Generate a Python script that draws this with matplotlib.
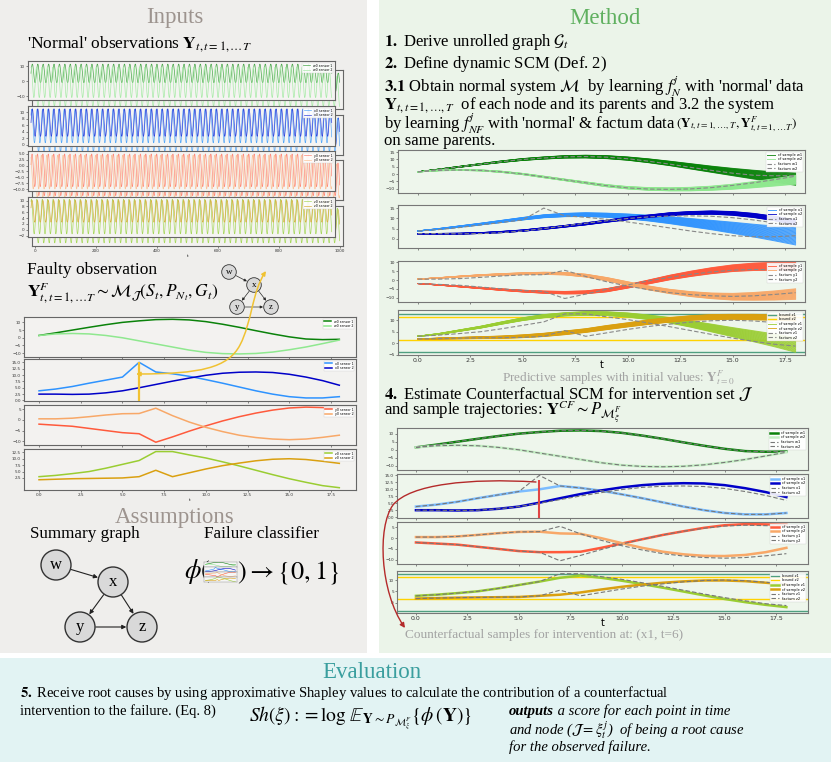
import numpy as np
import matplotlib
matplotlib.use("Agg")
import matplotlib.pyplot as plt
from matplotlib.patches import Rectangle, Circle, FancyArrowPatch
from matplotlib.path import Path

# ------------------------------------------------------------------ data
t_steps = list(range(19))

# faulty (factum) observation, per sensor
factum_w1 = [1.5, 3.2, 5.0, 6.8, 8.5, 10.0, 11.0, 11.8, 12.0, 11.6, 10.5, 8.8, 6.8, 4.6, 2.5, 0.6, -0.8, -1.2, -1.0]
factum_w2 = [1.5, 2.5, 2.8, 2.5, 1.5, 0.0, -2.0, -4.0, -6.0, -8.0, -9.5, -10.3, -10.5, -10.2, -9.3, -7.8, -6.0, -3.8, -1.5]
factum_x1 = [3.8, 4.5, 5.5, 6.8, 8.0, 9.2, 15.0, 11.2, 10.5, 9.5, 8.2, 6.8, 5.3, 3.8, 2.5, 1.5, 1.0, 1.0, 1.5]
factum_x2 = [2.5, 2.5, 2.4, 2.5, 3.0, 3.8, 5.0, 6.3, 7.6, 8.8, 9.9, 10.7, 11.1, 11.2, 11.0, 10.3, 9.2, 7.8, 6.0]
factum_y1 = [-2.0, -2.5, -3.0, -4.0, -5.0, -6.0, -6.5, -10.5, -8.0, -5.3, -2.8, -0.5, 1.5, 3.2, 4.6, 5.6, 6.0, 5.8, 5.5]
factum_y2 = [0.5, 0.5, 0.8, 1.5, 2.3, 2.9, 3.0, 5.5, 2.0, -1.0, -3.5, -5.5, -7.2, -8.3, -9.0, -9.3, -9.0, -8.2, -7.2]
factum_z1 = [3.0, 3.5, 4.2, 5.0, 6.3, 7.8, 9.3, 12.8, 12.8, 11.5, 10.3, 8.8, 7.2, 5.5, 3.8, 2.2, 0.8, -0.5, -1.3]
factum_z2 = [1.8, 2.0, 2.2, 2.3, 2.4, 2.5, 3.0, 5.5, 3.0, 4.5, 6.0, 7.3, 8.3, 9.2, 9.8, 10.0, 9.7, 9.0, 8.2]

# predictive samples (centre of the bundle and its half width)
pred_w1 = [1.5, 3.2, 5.0, 6.8, 8.5, 10.0, 11.0, 11.8, 12.0, 11.6, 10.6, 9.1, 7.3, 5.3, 3.3, 1.4, -0.4, -2.0, -3.5]
pred_w1_spread = [0.0, 0.2, 0.3, 0.4, 0.5, 0.6, 0.7, 0.8, 0.9, 1.0, 1.1, 1.3, 1.5, 1.8, 2.1, 2.5, 3.0, 3.5, 4.2]
pred_w2 = [1.5, 2.5, 2.8, 2.5, 1.5, 0.0, -2.0, -4.0, -6.0, -8.0, -9.4, -10.2, -10.5, -10.3, -9.7, -8.7, -7.3, -5.7, -4.0]
pred_w2_spread = [0.0, 0.2, 0.3, 0.3, 0.4, 0.4, 0.5, 0.5, 0.6, 0.7, 0.8, 0.9, 1.0, 1.2, 1.4, 1.7, 2.1, 2.5, 3.0]
pred_x1 = [3.8, 4.8, 6.0, 7.2, 8.5, 9.8, 11.0, 11.6, 11.8, 11.5, 10.9, 10.1, 9.1, 7.9, 6.7, 5.4, 4.0, 2.6, 1.2]
pred_x1_spread = [0.0, 0.2, 0.3, 0.4, 0.5, 0.6, 0.7, 0.8, 0.9, 1.0, 1.2, 1.4, 1.7, 2.0, 2.3, 2.7, 3.1, 3.6, 4.2]
pred_x2 = [2.5, 2.5, 2.5, 2.8, 3.3, 4.0, 5.0, 6.1, 7.3, 8.6, 9.9, 11.0, 12.0, 12.6, 12.8, 12.4, 11.4, 9.9, 8.0]
pred_x2_spread = [0.0, 0.1, 0.2, 0.2, 0.3, 0.3, 0.4, 0.4, 0.5, 0.5, 0.6, 0.6, 0.7, 0.7, 0.8, 0.9, 1.0, 1.1, 1.3]
pred_y1 = [-2.0, -2.8, -3.7, -4.6, -5.5, -6.3, -6.9, -7.2, -7.0, -5.8, -3.6, -1.1, 1.4, 3.5, 5.3, 6.7, 7.5, 7.8, 7.6]
pred_y1_spread = [0.0, 0.1, 0.2, 0.3, 0.4, 0.5, 0.6, 0.7, 0.8, 0.9, 1.0, 1.1, 1.3, 1.5, 1.7, 1.9, 2.1, 2.3, 2.6]
pred_y2 = [0.5, 1.2, 2.0, 2.7, 3.2, 3.6, 3.8, 3.6, 2.5, 0.5, -2.0, -4.5, -6.5, -8.0, -9.0, -9.5, -9.3, -8.8, -8.0]
pred_y2_spread = [0.0, 0.1, 0.2, 0.3, 0.4, 0.5, 0.6, 0.7, 0.8, 0.9, 1.0, 1.1, 1.2, 1.4, 1.6, 1.9, 2.2, 2.6, 3.0]
pred_z1 = [3.0, 4.0, 5.5, 7.0, 8.8, 10.5, 11.8, 12.6, 13.0, 12.9, 12.3, 11.3, 10.0, 8.4, 6.6, 4.8, 3.0, 1.2, -0.8]
pred_z1_spread = [0.0, 0.2, 0.3, 0.4, 0.5, 0.6, 0.7, 0.7, 0.8, 0.8, 0.9, 1.0, 1.2, 1.4, 1.7, 2.0, 2.4, 2.8, 3.2]
pred_z2 = [1.8, 2.0, 2.2, 2.4, 2.6, 3.0, 3.6, 4.5, 5.5, 6.8, 8.0, 9.2, 10.2, 11.0, 11.4, 11.5, 11.4, 11.2, 11.0]
pred_z2_spread = [0.0, 0.2, 0.3, 0.4, 0.5, 0.6, 0.7, 0.8, 0.8, 0.9, 0.9, 1.0, 1.0, 1.0, 1.1, 1.1, 1.2, 1.2, 1.3]

bound_z1 = [-3.7, 12.7]
bound_z2 = [1.5, 11.5]

# counterfactual samples for intervention (x1, t=6)
intervention_t = 6
cf_w1 = [1.5, 3.2, 5.0, 6.8, 8.5, 10.0, 11.0, 11.8, 12.0, 11.6, 10.5, 8.8, 6.8, 4.6, 2.5, 0.6, -0.8, -1.2, -1.0]
cf_w2 = [1.5, 2.5, 2.8, 2.5, 1.5, 0.0, -2.0, -4.0, -6.0, -8.0, -9.5, -10.3, -10.5, -10.2, -9.3, -7.8, -6.0, -3.8, -1.5]
cf_x1 = [3.8, 4.5, 5.5, 6.8, 8.0, 9.2, 10.0, 11.2, 10.5, 9.5, 8.2, 6.8, 5.3, 3.8, 2.5, 1.5, 1.0, 1.0, 1.5]
cf_x2 = [2.5, 2.5, 2.4, 2.5, 3.0, 3.8, 5.2, 6.8, 8.3, 9.6, 10.7, 11.5, 12.0, 12.2, 12.1, 11.5, 10.4, 9.0, 7.2]
cf_y1 = [-2.0, -2.5, -3.0, -4.0, -5.0, -6.0, -6.5, -6.5, -6.3, -4.5, -2.5, -0.5, 1.5, 3.2, 4.8, 6.0, 6.5, 6.4, 6.2]
cf_y2 = [0.5, 0.5, 0.8, 1.5, 2.3, 2.9, 3.0, 2.2, 2.0, 0.0, -2.3, -4.5, -6.3, -7.5, -8.2, -8.3, -7.8, -6.5, -4.5]
cf_z1 = [3.0, 3.5, 4.2, 5.0, 6.3, 7.8, 9.3, 11.0, 12.0, 11.0, 9.7, 8.2, 6.6, 4.9, 3.2, 1.6, 0.2, -1.0, -2.0]
cf_z2 = [1.8, 2.0, 2.2, 2.3, 2.4, 2.5, 3.0, 3.5, 4.5, 5.8, 7.0, 8.0, 8.8, 9.4, 9.8, 9.8, 9.5, 8.8, 8.0]

# 'normal' observations: one oscillation period of each sensor (repeated)
n_obs = 1000
w1_cycle = [5.3, 7.4, 9.3, 10.7, 11.4, 11.4, 10.7, 9.3, 7.4, 5.3, 3.1, 1.2, -0.2, -0.9, -0.9, -0.2, 1.2, 3.1]
w2_cycle = [9.3, 9.3, 8.1, 5.8, 2.8, -0.8, -4.3, -7.3, -9.6, -10.8, -10.8, -9.6, -7.3, -4.3, -0.8, 2.8, 5.8, 8.1]
x1_cycle = [9.1, 10.3, 10.9, 10.9, 10.3, 9.1, 7.5, 5.8, 4.0, 2.4, 1.2, 0.6, 0.6, 1.2, 2.4, 4.0, 5.8, 7.5]
x2_cycle = [6.8, 8.2, 9.5, 10.4, 11.0, 11.0, 10.4, 9.5, 8.2, 6.8, 5.3, 4.0, 3.1, 2.6, 2.6, 3.1, 4.0, 5.3]
y1_cycle = [0.4, 2.5, 4.1, 4.9, 4.9, 4.1, 2.5, 0.4, -2.0, -4.4, -6.5, -8.1, -8.9, -8.9, -8.1, -6.5, -4.4, -2.0]
y2_cycle = [3.5, 1.9, -0.3, -2.8, -5.2, -7.4, -9.0, -9.9, -9.9, -9.0, -7.4, -5.2, -2.8, -0.3, 1.9, 3.5, 4.4, 4.4]
z1_cycle = [9.7, 10.4, 10.4, 9.7, 8.4, 6.6, 4.5, 2.4, 0.6, -0.7, -1.4, -1.4, -0.7, 0.6, 2.4, 4.5, 6.6, 8.4]
z2_cycle = [7.5, 8.7, 9.5, 10.0, 10.0, 9.5, 8.7, 7.5, 6.25, 5.0, 3.8, 3.0, 2.6, 2.6, 3.0, 3.8, 5.0, 6.25]

nodes = ["w", "x", "y", "z"]
edges = [("w", "x"), ("x", "y"), ("x", "z"), ("y", "z")]

# ------------------------------------------------------------------ styles
W, H = 831, 762
plt.rcParams["font.family"] = ["DejaVu Sans"]
plt.rcParams["mathtext.fontset"] = "stix"
SERIF = "Liberation Serif"

col = {
    "w1": "#0a820a", "w2": "#8fe88f", "x1": "#2e93ff", "x2": "#0000c8",
    "y1": "#ff5a3c", "y2": "#f8a868", "z1": "#9acd32", "z2": "#daa010",
}
obs_col = {
    "w1": "#4aa84a", "w2": "#a8eba8", "x1": "#5aaaf8", "x2": "#3344dd",
    "y1": "#ff8a7a", "y2": "#fbc49a", "z1": "#a8d860", "z2": "#d8b040",
}

fig = plt.figure(figsize=(W / 100, H / 100), dpi=100)


def rect(x0, y0, x1, y1):
    return [x0 / W, 1 - y1 / H, (x1 - x0) / W, (y1 - y0) / H]


bg = fig.add_axes([0, 0, 1, 1], zorder=0)
bg.set_xlim(0, W); bg.set_ylim(H, 0); bg.axis("off")
fg = fig.add_axes([0, 0, 1, 1], zorder=30)
fg.set_xlim(0, W); fg.set_ylim(H, 0); fg.axis("off"); fg.patch.set_alpha(0)

bg.add_patch(Rectangle((0, 0), 367, 653, color="#efeeec", lw=0))
bg.add_patch(Rectangle((379, 0), 452, 653, color="#ebf4e9", lw=0))
bg.add_patch(Rectangle((0, 658), 831, 104, color="#e2f3f3", lw=0))


def small_ax(px, xlim, ylim, yticks, face, z=5, fs=3.0, spine="#666666"):
    ax = fig.add_axes(rect(*px), zorder=z)
    ax.set_facecolor(face)
    ax.set_xlim(*xlim); ax.set_ylim(*ylim)
    ax.set_yticks(yticks)
    ax.tick_params(labelsize=fs, length=1.5, width=0.4, pad=0.8, colors="#333333")
    for s in ax.spines.values():
        s.set_linewidth(0.8); s.set_color(spine)
    return ax


def tiny_legend(ax, fs=2.6):
    lg = ax.legend(loc="upper right", fontsize=fs, handlelength=2.2, borderpad=0.3,
                   labelspacing=0.15, framealpha=0.9, edgecolor="#cccccc", fancybox=False)
    lg.get_frame().set_linewidth(0.3)


# ------------------------------------------------------------------ Inputs
bg.text(175, 18, "Inputs", ha="center", va="center", fontsize=16.5, color="#9d948f", family=SERIF)
bg.text(27, 44, r"'Normal' observations $\mathbf{Y}_{t,t=1,\ldots T}$", ha="left", va="center",
        fontsize=12.5, family=SERIF)

obs_idx = np.arange(n_obs)
obs_sets = [
    (("w1", w1_cycle), ("w2", w2_cycle), (-12.5, 13.5), [-10, 0, 10]),
    (("x1", x1_cycle), ("x2", x2_cycle), (-0.4, 11.9), [0, 2, 4, 6, 8, 10]),
    (("y1", y1_cycle), ("y2", y2_cycle), (-10.8, 6.2), [-10, -7.5, -5, -2.5, 0, 2.5, 5]),
    (("z1", z1_cycle), ("z2", z2_cycle), (-2.5, 11.2), [-2, 0, 2, 4, 6, 8, 10]),
]
obs_rows = [(61, 100), (106, 146), (151, 191), (197, 237)]
for i, ((k1, c1), (k2, c2), yl, yt) in enumerate(obs_sets):
    y0, y1 = obs_rows[i]
    s1 = np.tile(c1, n_obs // len(c1) + 1)[:n_obs]
    s2 = np.tile(c2, n_obs // len(c2) + 1)[:n_obs]
    # stacked "window" behind
    sh = small_ax((32, y0 + 9, 343, y1 + 9), (-10, 1010), yl, [], "#f3f2f0", z=4)
    sh.plot(obs_idx, s2, color=obs_col[k2], lw=0.5)
    sh.plot(obs_idx, s1, color=obs_col[k1], lw=0.5)
    if i == 3:
        sh.set_xticks([0, 200, 400, 600, 800, 1000])
        sh.tick_params(axis="x", labelsize=3)
        sh.set_xlabel("t", fontsize=3, labelpad=0.5)
    else:
        sh.set_xticks([])
    ax = small_ax((28, y0, 335, y1), (-10, 1010), yl, yt, "#f5f4f2", z=5)
    ax.plot(obs_idx, s1, color=obs_col[k1], lw=0.5, label=f"{k1[0]}0 sensor 1")
    ax.plot(obs_idx, s2, color=obs_col[k2], lw=0.5, label=f"{k1[0]}0 sensor 2")
    ax.set_xticks([])
    tiny_legend(ax, 2.3)

# faulty observation
bg.text(27, 270, "Faulty observation", ha="left", va="center", fontsize=12.5, family=SERIF)
bg.text(27, 293, r"$\mathbf{Y}^F_{t,t=1,\ldots T}\sim\mathcal{M}_{\mathcal{J}}(S_t,P_{N_t},G_t)$",
        ha="left", va="center", fontsize=12.5, family=SERIF)

fault_sets = [
    ("w", factum_w1, factum_w2, (-12.5, 13.5), [-10, -5, 0, 5, 10]),
    ("x", factum_x1, factum_x2, (-0.2, 16.3), [0, 2.5, 5, 7.5, 10, 12.5, 15]),
    ("y", factum_y1, factum_y2, (-11.8, 7.0), [-10, -5, 0, 5]),
    ("z", factum_z1, factum_z2, (-2.2, 13.8), [2.5, 5, 7.5, 10, 12.5]),
]
fault_rows = [(317, 357), (359, 401), (405, 445), (449, 490)]
for i, (nm, a1, a2, yl, yt) in enumerate(fault_sets):
    y0, y1 = fault_rows[i]
    ax = small_ax((24, y0, 356, y1), (-0.9, 19.0), yl, yt, "#f3f2f0", z=5)
    ax.plot(t_steps, a1, color=col[nm + "1"], lw=1.1, label=f"{nm}0 sensor 1")
    ax.plot(t_steps, a2, color=col[nm + "2"], lw=1.1, label=f"{nm}0 sensor 2")
    if nm == "x":
        ax.vlines(intervention_t, yl[0], factum_x1[intervention_t], color="#f2c232", lw=1.6, zorder=5)
    if i == 3:
        ax.set_xticks([0, 2.5, 5, 7.5, 10, 12.5, 15, 17.5])
        ax.set_xlabel("t", fontsize=3, labelpad=0.5)
    else:
        ax.set_xticks([0, 2.5, 5, 7.5, 10, 12.5, 15, 17.5]); ax.set_xticklabels([])
    tiny_legend(ax, 2.3)


def draw_graph(pos, r, fs, lw, ms):
    for n in nodes:
        x, y = pos[n]
        fg.add_patch(Circle((x, y), r, facecolor="#d9d9d9", edgecolor="#333333", lw=lw, zorder=3))
        fg.text(x, y, n, ha="center", va="center", fontsize=fs, family=SERIF, zorder=4)
    for a, b in edges:
        fg.add_patch(FancyArrowPatch(pos[a], pos[b], arrowstyle="-|>", mutation_scale=ms,
                                     shrinkA=r * 0.72 + 0.5, shrinkB=r * 0.72 + 0.5,
                                     color="#222222", lw=lw * 0.8, zorder=2))


draw_graph({"w": (229, 272), "x": (254, 285), "y": (237, 307), "z": (271, 307)}, 7.3, 6.5, 0.6, 4)

# yellow link from intervention spike to node x
yv = [(136, 374), (200, 374), (228, 368), (240, 345), (252, 322), (252, 292), (266, 271)]
yc = [Path.MOVETO, Path.CURVE4, Path.CURVE4, Path.CURVE4, Path.CURVE4, Path.CURVE4, Path.CURVE4]
fg.add_patch(FancyArrowPatch(path=Path(yv, yc), arrowstyle="<|-|>", mutation_scale=6,
                             color="#f0c232", lw=1.1, zorder=6))

# ------------------------------------------------------------------ Assumptions
bg.text(175, 517, "Assumptions", ha="center", va="center", fontsize=16.5, color="#9d948f", family=SERIF)
bg.text(85, 534, "Summary graph", ha="center", va="center", fontsize=12.3, family=SERIF)
bg.text(261, 534, "Failure classifier", ha="center", va="center", fontsize=12.3, family=SERIF)
draw_graph({"w": (56, 565), "x": (113, 582), "y": (80, 627), "z": (142, 627)}, 15, 12, 1.0, 6)

bg.text(184, 572, r"$\phi($", ha="left", va="center", fontsize=19, family=SERIF)
bg.text(237, 572, r"$)\rightarrow\{0,1\}$", ha="left", va="center", fontsize=19, family=SERIF)
icon_pairs = [("w", factum_w1, factum_w2), ("x", factum_x1, factum_x2),
              ("y", factum_y1, factum_y2), ("z", factum_z1, factum_z2)]
for i, (nm, a1, a2) in enumerate(icon_pairs):
    ia = fig.add_axes(rect(204, 562 + i * 5, 237, 567 + i * 5), zorder=6)
    ia.plot(t_steps, a1, color=col[nm + "1"], lw=0.4)
    ia.plot(t_steps, a2, color=col[nm + "2"], lw=0.4)
    ia.set_xticks([]); ia.set_yticks([])
    ia.set_facecolor("#f6f6f6")
    for s in ia.spines.values():
        s.set_linewidth(0.3); s.set_color("#888888")

# ------------------------------------------------------------------ Method
bg.text(605, 18, "Method", ha="center", va="center", fontsize=16.5, color="#5fb05f", family=SERIF)
mfs = 12
bg.text(384, 42, r"$\mathbf{1.}$ Derive unrolled graph $\mathcal{G}_t$", va="center", fontsize=mfs, family=SERIF)
bg.text(384, 64, r"$\mathbf{2.}$ Define dynamic SCM (Def. 2)", va="center", fontsize=mfs, family=SERIF)
bg.text(384, 86, r"$\mathbf{3.1}$ Obtain normal system $\mathcal{M}$  by learning $f^{j}_{N}$ with 'normal' data",
        va="center", fontsize=mfs, family=SERIF)
bg.text(384, 105, r"$\mathbf{Y}_{t,t=1,\ldots,T}$  of each node and its parents and 3.2 the system",
        va="center", fontsize=mfs, family=SERIF)
t5 = bg.text(384, 123, r"by learning $f^{j}_{NF}$ with 'normal' & factum data ", va="center",
             fontsize=mfs, family=SERIF)
bg.annotate(r"$(\mathbf{Y}_{t,t=1,\ldots,T},\mathbf{Y}^F_{t,t=1,\ldots T})$", xy=(1, 0.45), xycoords=t5,
            va="center", ha="left", fontsize=9.5, family=SERIF)
bg.text(384, 141, "on same parents.", va="center", fontsize=mfs, family=SERIF)

mface = "#eef6ec"
pred_sets = [
    ("w", (pred_w1, pred_w1_spread), (pred_w2, pred_w2_spread), factum_w1, factum_w2,
     (-13, 16.5), [-10, -5, 0, 5, 10, 15]),
    ("x", (pred_x1, pred_x1_spread), (pred_x2, pred_x2_spread), factum_x1, factum_x2,
     (-4.5, 16.5), [0, 5, 10, 15]),
    ("y", (pred_y1, pred_y1_spread), (pred_y2, pred_y2_spread), factum_y1, factum_y2,
     (-12.5, 10.8), [-10, -5, 0, 5, 10]),
    ("z", (pred_z1, pred_z1_spread), (pred_z2, pred_z2_spread), factum_z1, factum_z2,
     (-5.2, 14.5), [-5, 0, 5, 10]),
]
pred_rows = [(150, 193), (205, 248), (261, 302), (310, 355)]
n_lines = 22
fracs = np.linspace(-1, 1, n_lines)
for i, (nm, p1, p2, f1, f2, yl, yt) in enumerate(pred_sets):
    y0, y1 = pred_rows[i]
    ax = small_ax((398, y0, 805, y1), (-0.95, 18.45), yl, yt, mface, z=5, fs=3.2, spine="#777777")
    if nm == "z":
        ax.axhline(bound_z1[0], color="#4f9f80", lw=1.0, label="bound z1")
        ax.axhline(bound_z1[1], color="#4f9f80", lw=1.0)
        ax.axhline(bound_z2[0], color="#ffd200", lw=1.0, label="bound z2")
        ax.axhline(bound_z2[1], color="#ffd200", lw=1.0)
    for key, (m, s) in ((nm + "1", p1), (nm + "2", p2)):
        m = np.array(m); s = np.array(s)
        for j, fr in enumerate(fracs):
            ax.plot(t_steps, m + fr * s, color=col[key], lw=0.7, alpha=0.85,
                    label=(f"cf sample {key}" if j == 0 else None))
    ax.plot(t_steps, f1, color="#888888", lw=0.8, ls=(0, (4, 2)), label=f"factum {nm}1")
    ax.plot(t_steps, f2, color="#888888", lw=0.8, ls=(0, (4, 2)), label=f"factum {nm}2")
    ax.set_xticks([0, 2.5, 5, 7.5, 10, 12.5, 15, 17.5])
    if i == 3:
        ax.tick_params(axis="x", labelsize=4.5, pad=0.5)
        ax.set_xlabel("t", fontsize=7, labelpad=-2.0)
    else:
        ax.set_xticklabels([])
    tiny_legend(ax, 2.6)

bg.text(618, 378, r"Predictive samples with initial values: $\mathbf{Y}^F_{t=0}$", ha="center", va="center",
        fontsize=9.5, color="#a3a3a3", family=SERIF)
bg.text(384, 394, r"$\mathbf{4.}$ Estimate Counterfactual SCM for intervention set $\mathcal{J}$",
        va="center", fontsize=mfs, family=SERIF)
bg.text(384, 412, r"and sample trajectories: $\mathbf{Y}^{CF}\sim P_{\mathcal{M}^F_\xi}$",
        va="center", fontsize=mfs, family=SERIF)

cf_sets = [
    ("w", cf_w1, cf_w2, factum_w1, factum_w2, (-12.5, 13.5), [-10, -5, 0, 5, 10]),
    ("x", cf_x1, cf_x2, factum_x1, factum_x2, (-0.3, 15.5), [0, 2.5, 5, 7.5, 10, 12.5, 15]),
    ("y", cf_y1, cf_y2, factum_y1, factum_y2, (-12, 7.5), [-10, -5, 0, 5]),
    ("z", cf_z1, cf_z2, factum_z1, factum_z2, (-4.6, 14.0), [0, 5, 10]),
]
cf_col = dict(col, w2="#c4efc4", x1="#7bbcff")
cf_rows = [(428, 470), (474, 518), (522, 564), (571, 613)]
for i, (nm, c1, c2, f1, f2, yl, yt) in enumerate(cf_sets):
    y0, y1 = cf_rows[i]
    ax = small_ax((397, y0, 808, y1), (-0.92, 19.05), yl, yt, mface, z=5, fs=3.0, spine="#777777")
    if nm == "z":
        ax.axhline(bound_z1[0], color="#4f9f80", lw=1.0, label="bound z1")
        ax.axhline(bound_z1[1], color="#4f9f80", lw=1.0)
        ax.axhline(bound_z2[0], color="#ffd200", lw=1.0, label="bound z2")
        ax.axhline(bound_z2[1], color="#ffd200", lw=1.0)
    ax.plot(t_steps, c1, color=cf_col[nm + "1"], lw=1.8, label=f"cf sample {nm}1")
    ax.plot(t_steps, c2, color=cf_col[nm + "2"], lw=1.8, label=f"cf sample {nm}2")
    ax.plot(t_steps, f1, color="#777777", lw=0.8, ls=(0, (4, 2)), label=f"factum {nm}1")
    ax.plot(t_steps, f2, color="#777777", lw=0.8, ls=(0, (4, 2)), label=f"factum {nm}2")
    if nm == "x":
        ax.vlines(intervention_t, yl[0], 13.5, color="#e04545", lw=1.5, zorder=6)
    ax.set_xticks([0, 2.5, 5, 7.5, 10, 12.5, 15, 17.5])
    if i == 3:
        ax.tick_params(axis="x", labelsize=4.5, pad=0.5)
        ax.set_xlabel("t", fontsize=7, labelpad=-2.0)
    else:
        ax.set_xticklabels([])
    tiny_legend(ax, 2.6)

bg.text(405, 635, "Counterfactual samples for intervention at: (x1, t=6)", ha="left", va="center",
        fontsize=9.5, color="#a3a3a3", family=SERIF)

# red arrow from intervention to the caption
rv = [(536, 482), (470, 478), (410, 484), (393, 505), (377, 527), (380, 592), (405, 628)]
rc = [Path.MOVETO, Path.CURVE4, Path.CURVE4, Path.CURVE4, Path.CURVE4, Path.CURVE4, Path.CURVE4]
fg.add_patch(FancyArrowPatch(path=Path(rv, rc), arrowstyle="-|>", mutation_scale=7,
                             color="#b42a2a", lw=1.0, zorder=6))

# ------------------------------------------------------------------ Evaluation
bg.text(372, 672, "Evaluation", ha="center", va="center", fontsize=16.5, color="#3a9e9e", family=SERIF)
bg.text(20, 693, r"$\mathbf{5.}$ Receive root causes by using approximative Shapley values to calculate "
        r"the contribution of a counterfactual", ha="left", va="center", fontsize=10.5, family=SERIF)
bg.text(20, 711, "intervention to the failure. (Eq. 8)", ha="left", va="center", fontsize=10.5, family=SERIF)
bg.text(249, 718, r"$Sh(\xi) := \log\,\mathbb{E}_{\mathbf{Y}\sim P_{\mathcal{M}^F_\xi}}\{\phi\,(\mathbf{Y})\}$",
        ha="left", va="center", fontsize=14, family=SERIF)
o1 = bg.text(509, 712, "outputs", ha="left", va="center", fontsize=10.5, family=SERIF,
             style="italic", weight="bold")
bg.annotate(" a score for each point in time", xy=(1, 0), xycoords=o1, ha="left", va="bottom",
            fontsize=10.5, family=SERIF, style="italic")
bg.text(509, 730, r"and node ($\mathcal{J}=\xi^j_t$)  of being a root cause", ha="left", va="center",
        fontsize=10.5, family=SERIF, style="italic")
bg.text(509, 747, "for the observed failure.", ha="left", va="center", fontsize=10.5, family=SERIF,
        style="italic")

fig.savefig("out.png", dpi=100)
